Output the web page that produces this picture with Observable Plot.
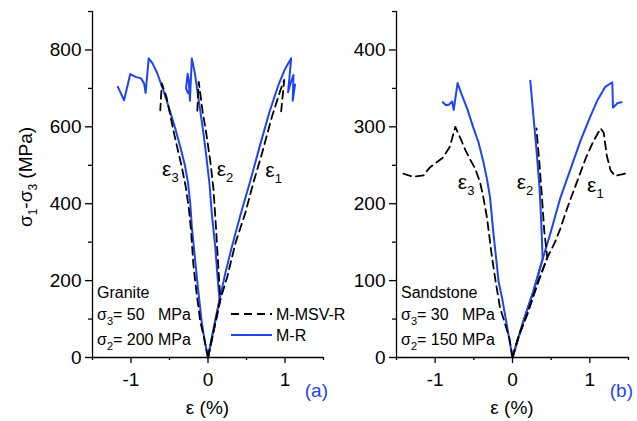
<!DOCTYPE html>
<html><head><meta charset="utf-8">
<script src="https://cdn.jsdelivr.net/npm/d3@7"></script>
<script src="https://cdn.jsdelivr.net/npm/@observablehq/plot@0.6"></script>
<style>
body{margin:0;background:#fff;}
#wrap{position:relative;width:637px;height:421px;overflow:hidden;font-family:"Liberation Sans",Arial,sans-serif;}
#wrap svg{position:absolute;top:0;overflow:visible;background:transparent;max-width:none;}
</style></head><body><div id="wrap"></div>
<script>
const BLUE = "#1f45f0";
const FONT = "Liberation Sans, Arial, sans-serif";

// ---- Granite (a): M-R (solid blue) ----
const graniteMR_e1 = [[0,0],[0.07,72],[0.15,150],[0.22,215],[0.30,280],[0.42,370],[0.55,460],[0.68,555],[0.80,640],[0.92,712],[1.00,750],[1.05,768],[1.08,778],[1.04,690],[1.07,712],[1.11,735],[1.10,668],[1.13,710]];
const graniteMR_e2 = [[0,0],[0.07,72],[0.15,150],[0.12,220],[0.095,286],[0.05,373],[0.02,450],[-0.02,520],[-0.06,585],[-0.12,669],[-0.17,739],[-0.21,778],[-0.235,668],[-0.25,722],[-0.265,738],[-0.285,700],[-0.26,688]];
const graniteMR_e3 = [[0,0],[-0.04,40],[-0.08,90],[-0.13,180],[-0.17,260],[-0.21,340],[-0.23,400],[-0.26,455],[-0.30,500],[-0.36,548],[-0.42,592],[-0.50,645],[-0.58,695],[-0.66,740],[-0.72,765],[-0.77,778],[-0.81,688],[-0.83,713],[-0.87,726],[-0.94,730],[-1.01,737],[-1.09,669],[-1.17,704]];
// ---- Granite (a): M-MSV-R (dashed black) ----
const graniteMSV_e1 = [[0,0],[0.08,75],[0.16,150],[0.25,210],[0.36,300],[0.48,373],[0.59,455],[0.70,530],[0.83,626],[0.94,695],[0.99,722],[0.95,640]];
const graniteMSV_e2 = [[0,0],[0.08,75],[0.16,150],[0.13,250],[0.10,350],[0.07,440],[0.03,510],[-0.02,580],[-0.07,640],[-0.12,717],[-0.14,639]];
const graniteMSV_e3 = [[0,0],[-0.05,50],[-0.10,94],[-0.15,170],[-0.19,242],[-0.22,330],[-0.25,390],[-0.29,445],[-0.34,495],[-0.44,582],[-0.54,678],[-0.60,713],[-0.62,643]];

// ---- Sandstone (b): M-R ----
const sandMR_e1 = [[0,0],[0.14,47],[0.27,86],[0.39,128],[0.50,165],[0.62,208],[0.75,245],[0.88,282],[1.00,312],[1.10,335],[1.20,352],[1.29,358],[1.30,325],[1.36,331],[1.41,332]];
const sandMR_e2 = [[0,0],[0.14,47],[0.27,86],[0.39,128],[0.37,180],[0.35,220],[0.31,270],[0.27,315],[0.23,360]];
const sandMR_e3 = [[0,0],[-0.07,40],[-0.13,75],[-0.18,99],[-0.25,165],[-0.29,208],[-0.33,232],[-0.38,256],[-0.44,280],[-0.51,300],[-0.58,322],[-0.66,343],[-0.71,357],[-0.76,322],[-0.78,333],[-0.82,329],[-0.86,328],[-0.90,332]];
// ---- Sandstone (b): M-MSV-R ----
const sandMSV_e1 = [[0,0],[0.08,28],[0.19,56],[0.32,95],[0.45,130],[0.55,150],[0.62,168],[0.71,195],[0.84,230],[0.95,260],[1.05,282],[1.14,298],[1.18,292],[1.22,262],[1.27,243],[1.33,236],[1.40,238],[1.49,240]];
const sandMSV_e2 = [[0,0],[0.08,28],[0.19,56],[0.32,95],[0.45,130],[0.41,165],[0.38,210],[0.35,250],[0.31,298]];
const sandMSV_e3 = [[0,0],[-0.04,25],[-0.10,45],[-0.16,64],[-0.22,100],[-0.27,134],[-0.33,182],[-0.38,210],[-0.42,228],[-0.48,245],[-0.55,258],[-0.61,270],[-0.66,282],[-0.74,300],[-0.81,274],[-0.90,260],[-1.07,247],[-1.15,237],[-1.28,235],[-1.41,239]];

// ---- ticks ----
const xMajor = [-1, 0, 1];
const xMinor = [-1.5, -0.5, 0.5, 1.5];
const xDomain = [-1.5, 1.5];
const yMajorA = [0, 200, 400, 600, 800];
const yMinorA = [100, 300, 500, 700, 900];
const yMajorB = [0, 100, 200, 300, 400];
const yMinorB = [50, 150, 250, 350, 450];

// ---- strain labels ----
const strainSubs = ["3", "2", "1"];
const graniteLabelX = [-0.59, 0.12, 0.75];
const graniteLabelY = [470, 470, 467];
const sandLabelX = [-0.70, 0.06, 0.97];
const sandLabelY = [219, 219, 215];

function rows(arrs) {
  const out = [];
  arrs.forEach((a, i) => a.forEach(([x, y]) => out.push({x, y, s: i})));
  return out;
}

function panel(o) {
  const p = Plot.plot({
    width: o.width, height: 421,
    marginLeft: o.ml, marginRight: o.mr, marginTop: 11, marginBottom: 64,
    style: {fontFamily: FONT, background: "transparent", overflow: "visible", color: "#000"},
    x: {domain: xDomain},
    y: {domain: o.yDomain},
    marks: [
      Plot.line(rows(o.mr_), {x: "x", y: "y", z: "s", stroke: BLUE, strokeWidth: 2}),
      Plot.line(rows(o.msv), {x: "x", y: "y", z: "s", stroke: "#000", strokeWidth: 1.8, strokeDasharray: "8,5"}),
      Plot.ruleY([0], {stroke: "#000", strokeWidth: 1.3}),
      Plot.ruleX([xDomain[0]], {stroke: "#000", strokeWidth: 1.3}),
      Plot.axisX({ticks: xMajor, tickSize: 6, tickPadding: 9, fontSize: 19, label: null, strokeWidth: 1.3, tickFormat: d => String(d)}),
      Plot.axisX({ticks: xMinor, tickSize: 3, label: null, strokeWidth: 1.3, tickFormat: () => ""}),
      Plot.axisY({ticks: o.yMajor, tickSize: 7, tickPadding: 4, fontSize: 19, label: null, strokeWidth: 1.3, tickFormat: d => String(d)}),
      Plot.axisY({ticks: o.yMinor, tickSize: 4, label: null, strokeWidth: 1.3, tickFormat: () => ""})
    ]
  });
  p.style.left = o.left + "px";
  return p;
}

function rich(svg, x, y, parts, opt = {}) {
  const size = opt.size || 16;
  const t = svg.append("text").attr("x", x).attr("y", y)
    .attr("font-size", size).attr("font-family", FONT)
    .attr("fill", opt.fill || "#000").attr("text-anchor", opt.anchor || "start")
    .style("white-space", "pre");
  if (opt.rotate) t.attr("transform", `rotate(-90 ${x} ${y})`);
  let shift = 0;
  parts.forEach(pt => {
    if (typeof pt === "string") {
      t.append("tspan").attr("dy", -shift).text(pt); shift = 0;
    } else {
      t.append("tspan").attr("font-size", pt.size).attr("dy", pt.dy - shift).text(pt.sub); shift = pt.dy;
    }
  });
  return t;
}

const wrap = document.getElementById("wrap");

const pa = panel({width: 330, left: 0, ml: 92, mr: 7, yDomain: [0, 900], yMajor: yMajorA, yMinor: yMinorA,
  mr_: [graniteMR_e1, graniteMR_e2, graniteMR_e3], msv: [graniteMSV_e1, graniteMSV_e2, graniteMSV_e3]});
const pb = panel({width: 307, left: 330, ml: 66, mr: 9, yDomain: [0, 450], yMajor: yMajorB, yMinor: yMinorB,
  mr_: [sandMR_e1, sandMR_e2, sandMR_e3], msv: [sandMSV_e1, sandMSV_e2, sandMSV_e3]});
wrap.appendChild(pa);
wrap.appendChild(pb);

function decorate(p, labX, labY, tag, lines) {
  const svg = d3.select(p);
  const sx = p.scale("x"), sy = p.scale("y");
  labX.forEach((x, i) => {
    rich(svg, sx.apply(x), sy.apply(labY[i]), ["ε", {sub: strainSubs[i], size: 13, dy: 6}], {size: 21});
  });
  rich(svg, sx.apply(0), 414, ["ε (%)"], {size: 19, anchor: "middle"});
  rich(svg, sx.apply(xDomain[1]) + 5, 397, [tag], {size: 19, anchor: "end", fill: BLUE});
  const x0 = sx.apply(xDomain[0]) + 5;
  rich(svg, x0, 298, [lines[0]], {size: 16});
  rich(svg, x0, 320, ["σ", {sub: "3", size: 11, dy: 5}, lines[1]], {size: 16});
  rich(svg, x0, 345, ["σ", {sub: "2", size: 11, dy: 5}, lines[2]], {size: 16});
  return svg;
}

const sa = decorate(pa, graniteLabelX, graniteLabelY, "(a)", ["Granite", "= 50   MPa", "= 200 MPa"]);
decorate(pb, sandLabelX, sandLabelY, "(b)", ["Sandstone", "= 30   MPa", "= 150 MPa"]);

// y-axis title
rich(sa, 32, 177, ["σ", {sub: "1", size: 12, dy: 5}, "-σ", {sub: "3", size: 12, dy: 5}, " (MPa)"], {size: 19, anchor: "middle", rotate: true});

// legend (panel a)
sa.append("line").attr("x1", 231).attr("x2", 272).attr("y1", 314).attr("y2", 314)
  .attr("stroke", "#000").attr("stroke-width", 1.8).attr("stroke-dasharray", "8,5");
sa.append("line").attr("x1", 231).attr("x2", 272).attr("y1", 335).attr("y2", 335)
  .attr("stroke", BLUE).attr("stroke-width", 2);
rich(sa, 276, 320, ["M-MSV-R"], {size: 16});
rich(sa, 276, 341, ["M-R"], {size: 16});
</script></body></html>
